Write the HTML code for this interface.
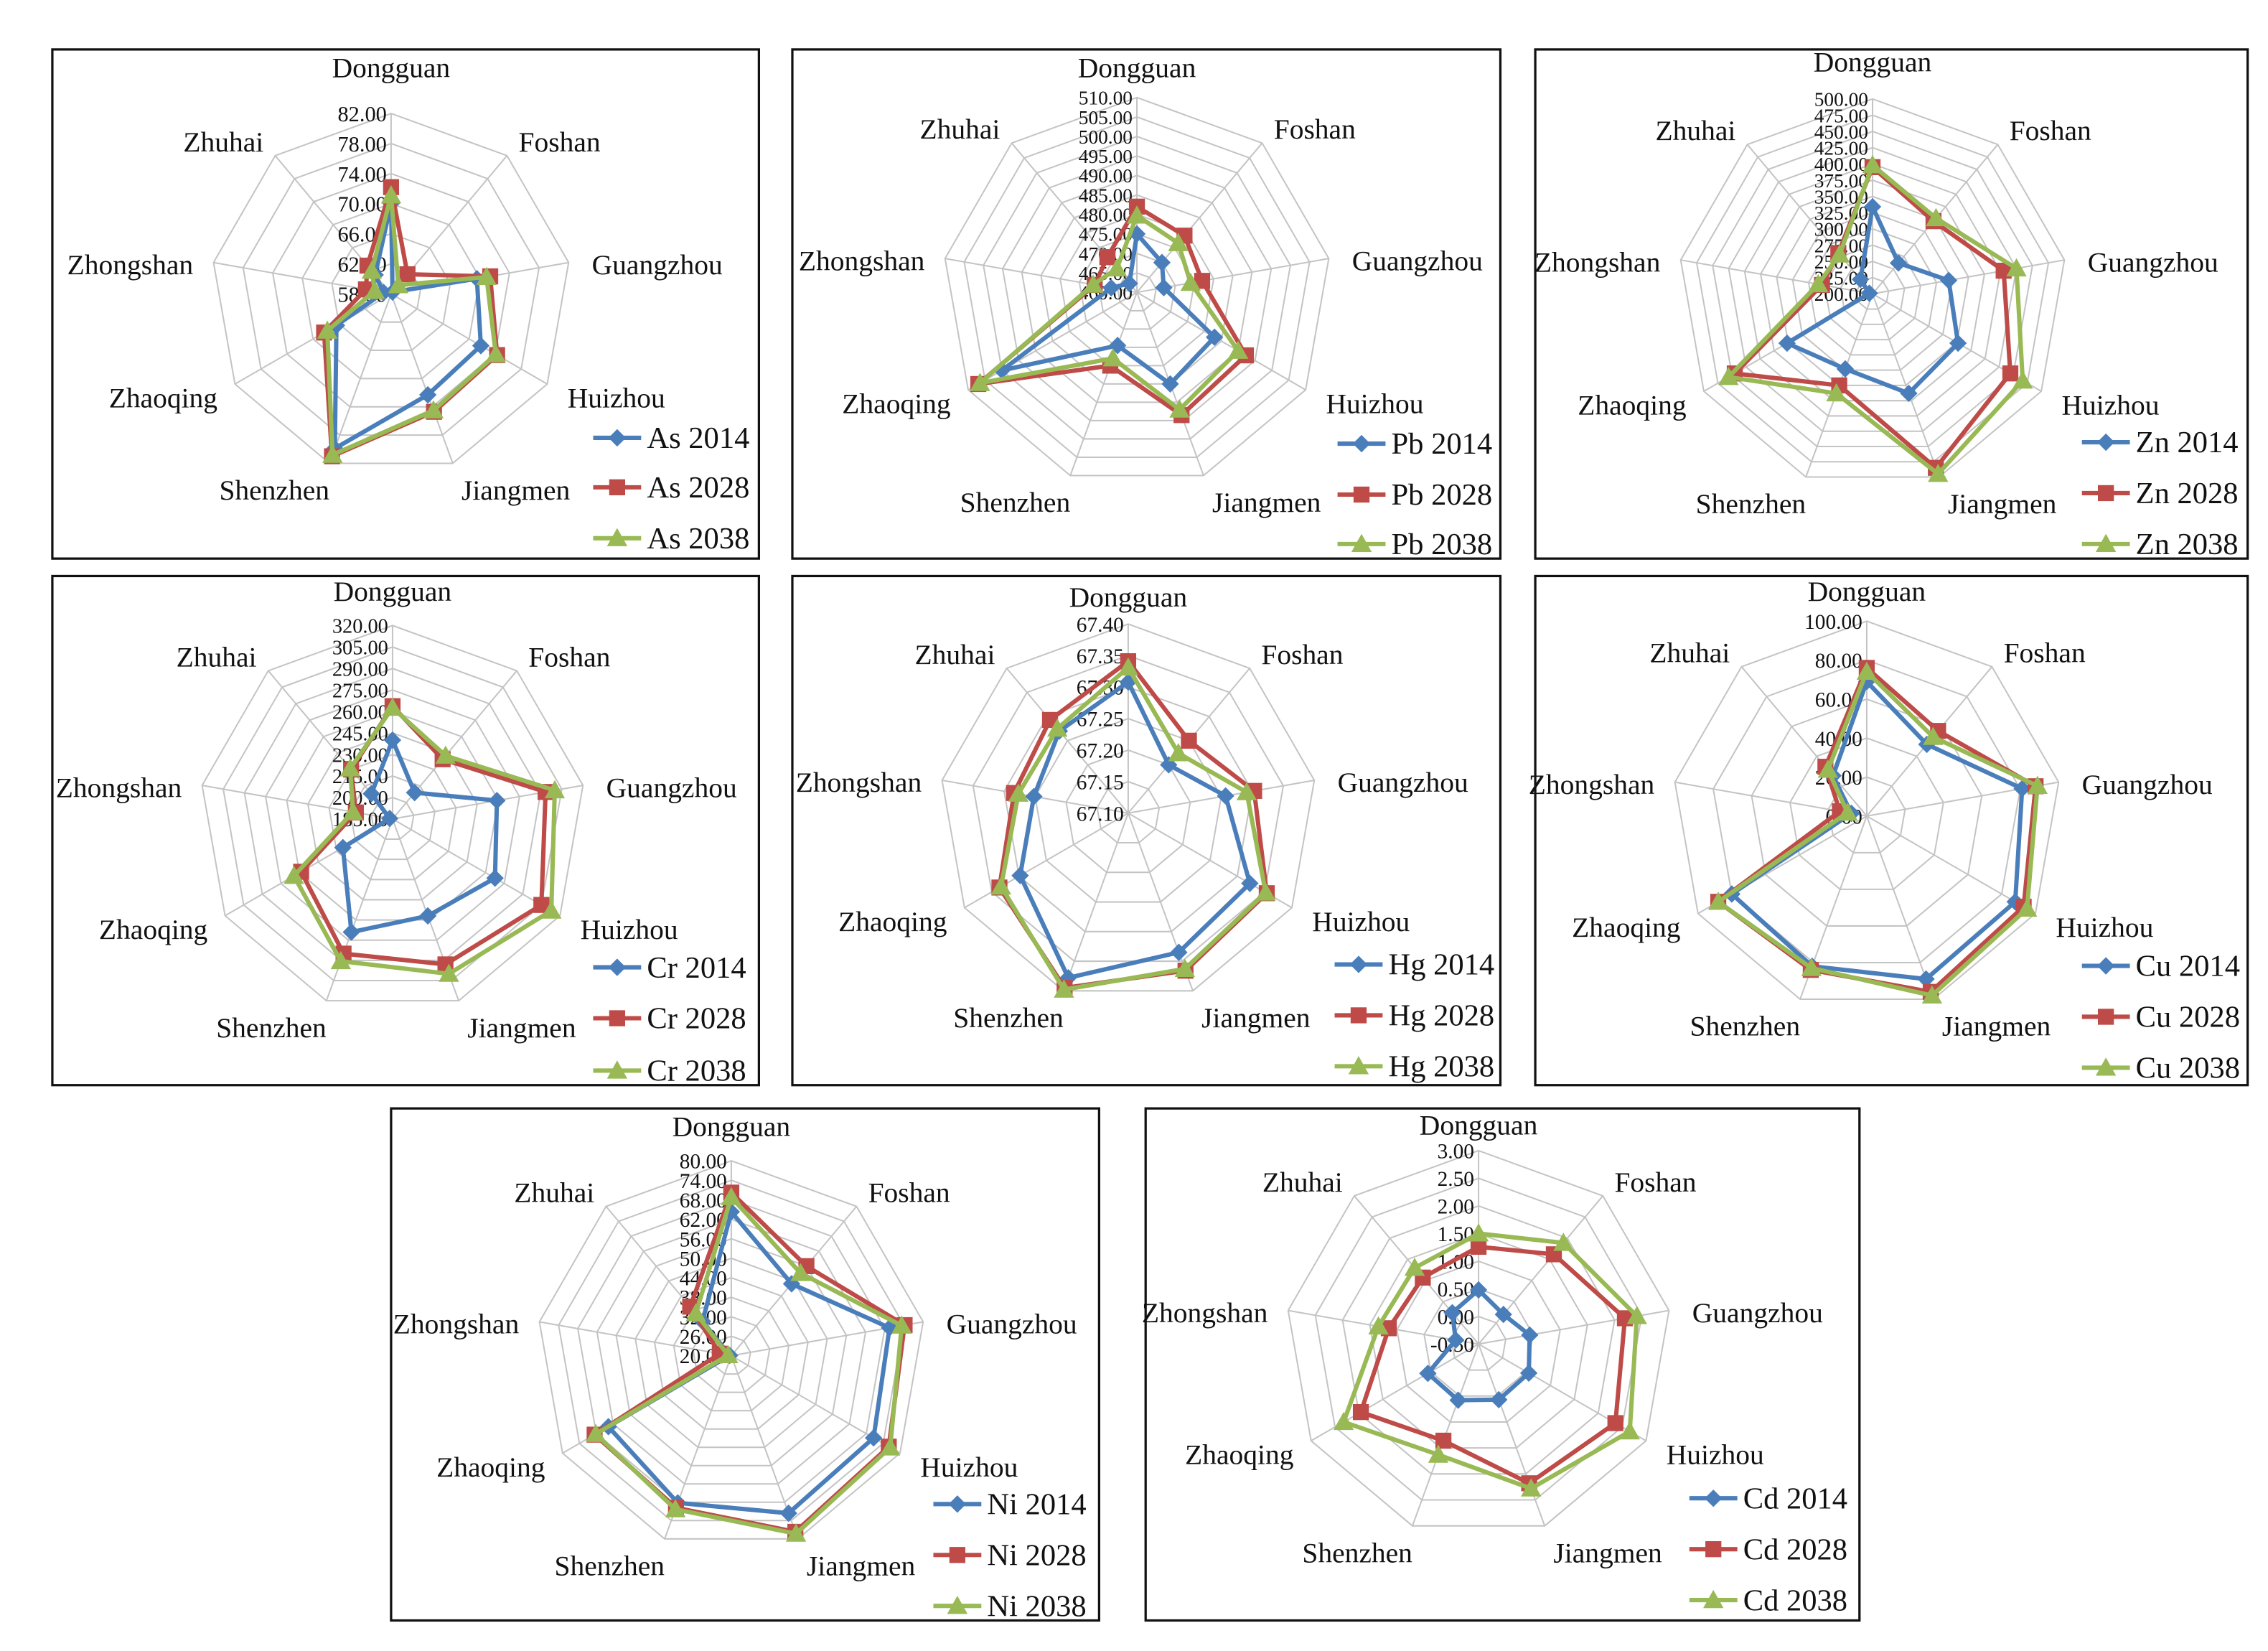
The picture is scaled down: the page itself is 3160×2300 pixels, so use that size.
<!DOCTYPE html>
<html><head><meta charset="utf-8">
<style>
html,body{margin:0;padding:0;background:#fff;}
svg{display:block;}
text{font-family:"Liberation Serif","DejaVu Serif",serif;fill:#111;}
</style></head>
<body>
<svg id="fig" xmlns="http://www.w3.org/2000/svg" width="3160" height="2300" viewBox="0 0 1560 1135" preserveAspectRatio="none"></svg>
<script>
const categories=["Dongguan","Foshan","Guangzhou","Huizhou","Jiangmen","Shenzhen","Zhaoqing","Zhongshan","Zhuhai"];
const years=["2014","2028","2038"];

const asTicks=[58,62,66,70,74,78,82];
const as2014=[70,58.3,69.6,71.8,72.3,79.9,66.4,59,61.3];
const as2028=[72.2,61.4,71.4,74.3,74.7,81,68.3,61.4,62.9];
const as2038=[71.1,59.5,70.9,74.1,74.5,80.8,67.8,60.2,62];

const pbTicks=[460,465,470,475,480,485,490,495,500,505,510];
const pb2014=[475,470,467,483,485,474.5,500,466.7,463];
const pb2028=[482,479,477,492.3,493.5,480,507,471,471.8];
const pb2038=[479.7,476.5,474,490,492,478,506.5,471.4,468];

const znTicks=[200,225,250,275,300,325,350,375,400,425,450,475,500];
const zn2014=[334,262,319,352,363,323,352,205,229];
const zn2028=[395,346,405,445,485,350,445,279,282];
const zn2038=[398,352,425,467,495,363,456,285,279];

const crTicks=[185,200,215,230,245,260,275,290,305,320];
const cr2014=[240,209,259,267.6,257,269,225,187,208];
const cr2028=[263.7,239.4,293.5,305,293,285,258.7,211,230];
const cr2038=[262.6,242.6,300,313,300,290.6,264.5,213,231];

const hgTicks=[67.10,67.15,67.20,67.25,67.30,67.35,67.40];
const hg2014=[67.308,67.20,67.257,67.323,67.335,67.378,67.298,67.252,67.27];
const hg2028=[67.341,67.25,67.303,67.354,67.366,67.395,67.336,67.284,67.293];
const hg2038=[67.331,67.224,67.291,67.352,67.363,67.398,67.333,67.277,67.275];

const cuTicks=[0,20,40,60,80,100];
const cu2014=[69,48,81,88,89,82,80,8,27];
const cu2028=[76,57,88,93,96,84,88,14,33];
const cu2038=[74,53,89,95,98,83,88,10,31];

const niTicks=[20,26,32,38,44,50,56,62,68,74,80];
const ni2014=[64.3,48.9,69.5,70.6,71.6,68.2,63.7,20.5,33.8];
const ni2028=[70.2,56,74.2,76,77.7,69.8,68.6,23.6,39.7];
const ni2038=[68.8,53.2,73.3,76.5,78.3,70.3,68.2,21,37];

const cdTicks=[-0.5,0,0.5,1,1.5,2,2.5,3];
const cd2014=[0.48,0.2,0.44,0.55,0.57,0.58,0.56,-0.08,0.24];
const cd2028=[1.26,1.62,2.19,2.36,2.18,1.36,1.96,1.15,1.07];
const cd2038=[1.5,1.89,2.41,2.66,2.28,1.63,2.32,1.34,1.3];

const NS="http://www.w3.org/2000/svg";
const svg=document.getElementById("fig");
function mk(tag,attrs,parent){const e=document.createElementNS(NS,tag);for(const k in attrs)e.setAttribute(k,attrs[k]);(parent||svg).appendChild(e);return e;}

const panels=[
 {el:"As",ticks:asTicks,series:[as2014,as2028,as2038],box:[36,34,486,350],cx:269,cy:202,R:124,tf:15,lx:408,ly:[301,335,370],ty:53},
 {el:"Pb",ticks:pbTicks,series:[pb2014,pb2028,pb2038],box:[545,34,487,350],cx:782,cy:201,R:134,tf:13.5,lx:920,ly:[305,340,374],ty:53},
 {el:"Zn",ticks:znTicks,series:[zn2014,zn2028,zn2038],box:[1056,34,490,350],cx:1288,cy:202,R:134,tf:13.5,lx:1432,ly:[304,339,374],ty:49},
 {el:"Cr",ticks:crTicks,series:[cr2014,cr2028,cr2038],box:[36,396,486,350],cx:270,cy:563,R:133,tf:14,lx:408,ly:[665,700,736],ty:413},
 {el:"Hg",ticks:hgTicks,series:[hg2014,hg2028,hg2038],box:[545,396,487,350],cx:776,cy:559,R:130,tf:14.5,lx:918,ly:[663,698,733],ty:417},
 {el:"Cu",ticks:cuTicks,series:[cu2014,cu2028,cu2038],box:[1056,396,490,350],cx:1284,cy:561,R:134,tf:14.5,lx:1432,ly:[664,699,734],ty:413},
 {el:"Ni",ticks:niTicks,series:[ni2014,ni2028,ni2038],box:[269,762,487,352],cx:503,cy:932,R:134,tf:14.5,lx:642,ly:[1034,1069,1104],ty:781},
 {el:"Cd",ticks:cdTicks,series:[cd2014,cd2028,cd2038],box:[788,762,491,352],cx:1017,cy:924,R:133,tf:14.5,lx:1162,ly:[1030,1065,1100],ty:780}
];
const colors=["#4a7ebb","#be4b48","#98b954"];
const lblOff=[[0,-25,"middle"],[8,-3,"start"],[16,8,"start"],[14,16,"start"],[6,25,"start"],[0,25,"end"],[-12,16,"end"],[-14,8,"end"],[-8,-3,"end"]];

function marker(g,k,x,y){
  let m;
  if(k===0){m=mk("polygon",{points:`${x},${y-6} ${x+6},${y} ${x},${y+6} ${x-6},${y}`,fill:colors[0]},g);}
  else if(k===1){m=mk("rect",{x:x-5.5,y:y-5.5,width:11,height:11,fill:colors[1]},g);}
  else {m=mk("polygon",{points:`${x},${y-7} ${x+7},${y+5.5} ${x-7},${y+5.5}`,fill:colors[2]},g);}
  return m;
}

panels.forEach(p=>{
  const min=p.ticks[0],max=p.ticks[p.ticks.length-1];
  const n=categories.length;
  const ang=i=>i*2*Math.PI/n;
  const pt=(i,v)=>{let f=(v-min)/(max-min);f=Math.max(0,Math.min(1.04,f));return [p.cx+p.R*f*Math.sin(ang(i)),p.cy-p.R*f*Math.cos(ang(i))];};
  const g=mk("g",{});
  
  
  const box=mk("rect",{x:p.box[0],y:p.box[1],width:p.box[2],height:p.box[3],fill:"none",stroke:"#111","stroke-width":1.6},g);
  
  
  for(let t=1;t<p.ticks.length;t++){
    const pts=[];for(let i=0;i<n;i++){pts.push(pt(i,p.ticks[t]).join(","));}
    const r=mk("polygon",{points:pts.join(" "),fill:"none",stroke:"#c4c4c4","stroke-width":1},g);
    
    
  }
  for(let i=0;i<n;i++){
    const [x,y]=pt(i,max);
    const s=mk("line",{x1:p.cx,y1:p.cy,x2:x,y2:y,stroke:"#c4c4c4","stroke-width":1},g);
    
    
    const o=lblOff[i];
    const ly=(i===0)?p.ty:y+o[1];
    const tx=mk("text",{x:x+o[0],y:ly,"text-anchor":o[2],"font-size":19.5},g);
    tx.textContent=categories[i];
    
    
  }
  p.ticks.forEach(t=>{
    const [x,y]=pt(0,t);
    const tx=mk("text",{x:p.cx-3,y:y+p.tf*0.36,"text-anchor":"end","font-size":p.tf},g);
    tx.textContent=t.toFixed(2);
    
    
  });
  p.series.forEach((vals,k)=>{
    const sg=mk("g",{},g);
    
    
    const pts=vals.map((v,i)=>pt(i,v));
    const pl=mk("polygon",{points:pts.map(q=>q.join(",")).join(" "),fill:"none",stroke:colors[k],"stroke-width":3,"stroke-linejoin":"round"},sg);
    
    
    pts.forEach(q=>{
      const m=marker(sg,k,q[0],q[1]);
      
      
    });
  });
  years.forEach((yr,k)=>{
    const lg=mk("g",{},g);
    
    
    const y=p.ly[k];
    mk("line",{x1:p.lx,y1:y,x2:p.lx+33,y2:y,stroke:colors[k],"stroke-width":3},lg);
    marker(lg,k,p.lx+16.5,y);
    const tx=mk("text",{x:p.lx+37,y:y+7,"font-size":21},lg);
    tx.textContent=p.el+" "+yr;
  });
});
</script>
</body></html>
